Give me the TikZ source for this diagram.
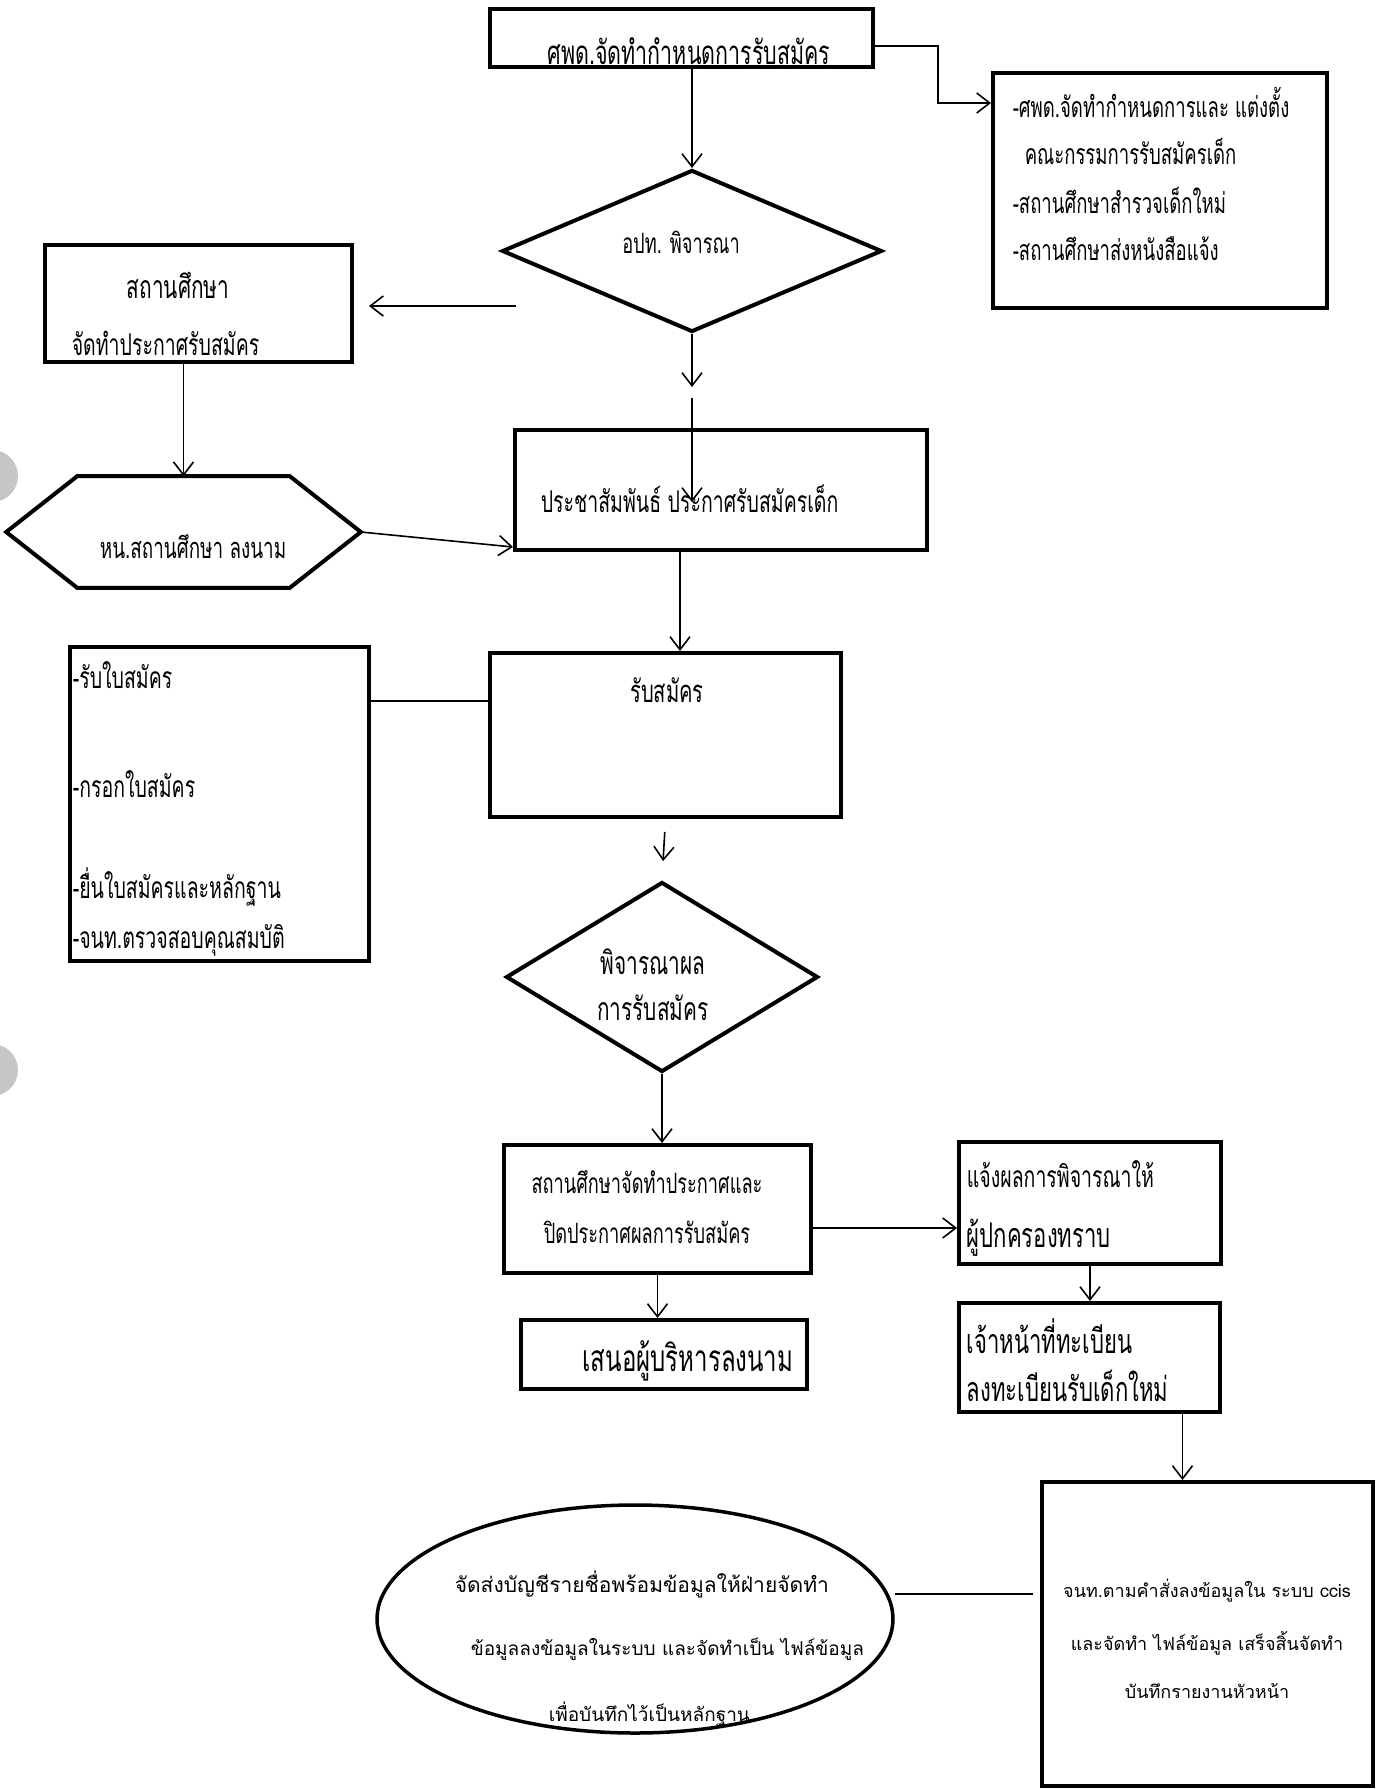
\documentclass[tikz,border=0pt]{standalone}
\usepackage{fontspec}
\newfontfamily\thaifont[Script=Thai,FakeStretch=0.65]{Loma}
\newfontfamily\thaiwide[Script=Thai]{Loma}
\usetikzlibrary{shapes}
\usetikzlibrary{shapes.geometric}
\usetikzlibrary{arrows.meta}
\tikzset{
	box node/.style={rectangle,draw,line width=4pt,inner sep=0pt},
	dec node/.style={diamond,draw,line width=4pt,inner sep=0pt},
	oval node/.style={ellipse,draw,line width=3.5pt,inner sep=0pt},
	txt/.style={font=\thaifont\fontsize{#1}{46}\selectfont,inner sep=0pt},
	txt/.default=30,
	txt wide/.style={font=\thaiwide\fontsize{#1}{24}\selectfont,inner sep=0pt},
	txt wide/.default=19
}

\begin{document}
\begin{tikzpicture}[->,>={Straight Barb[length=13pt,width=20pt]},
	    line width=1.6pt,x=1pt,y=-1pt]
	    \useasboundingbox (0,0) rectangle (1383,1789);
	    % punch holes of the scan
	    \fill[gray!45] (-8,476) circle (26);
	    \fill[gray!45] (-8,1070) circle (26);

	    \node[box node,minimum width=383pt,minimum height=58pt] (top) at (681.5,38) {};
	    \node[txt=33,anchor=base] (toptxt) at (689,64) {ศพด.จัดทำกำหนดการรับสมัคร};

	    \node[box node,minimum width=334pt,minimum height=235pt] (note) at (1160,190.5) {};
	    \node[txt=28.5,anchor=base west] (n1) at (1012,117) {-ศพด.จัดทำกำหนดการและ แต่งตั้ง};
	    \node[txt=28.5,anchor=base west] (n2) at (1024,164) {คณะกรรมการรับสมัครเด็ก};
	    \node[txt=28.5,anchor=base west] (n3) at (1012,213) {-สถานศึกษาสำรวจเด็กใหม่};
	    \node[txt=28.5,anchor=base west] (n4) at (1012,260) {-สถานศึกษาส่งหนังสือแจ้ง};

	    \node[dec node,minimum width=380pt,minimum height=162pt] (consider) at (692,251) {};
	    \node[txt=28,anchor=base] (considertxt) at (681,253) {อปท. พิจารณา};

	    \node[box node,minimum width=307pt,minimum height=117pt] (school) at (198.5,303.5) {};
	    \node[txt=32,anchor=base] (s1) at (178,298) {สถานศึกษา};
	    \node[txt,anchor=base west] (s2) at (71,355) {จัดทำประกาศรับสมัคร};

	    \node[minimum width=353pt,minimum height=110pt,inner sep=0pt] (sign) at (183.5,532) {};
	    \draw[-,line width=4pt] (sign.west) -- ([xshift=71pt]sign.north west) -- ([xshift=-71pt]sign.north east)
	      -- (sign.east) -- ([xshift=-71pt]sign.south east) -- ([xshift=71pt]sign.south west) -- cycle;
	    \node[txt=29,anchor=base] (signtxt) at (193,558) {หน.สถานศึกษา ลงนาม};

	    \node[box node,minimum width=412pt,minimum height=120pt] (publicize) at (721,490) {};
	    \node[txt,anchor=base west] (pubtxt) at (540,512) {ประชาสัมพันธ์ ประกาศรับสมัครเด็ก};

	    \node[box node,minimum width=351pt,minimum height=164pt] (apply) at (665.5,735) {};
	    \node[txt=31,anchor=base] (applytxt) at (667,702) {รับสมัคร};

	    \node[box node,minimum width=299pt,minimum height=314pt] (steps) at (219.5,804) {};
	    \node[txt,anchor=base west] (st1) at (72,688) {-รับใบสมัคร};
	    \node[txt,anchor=base west] (st2) at (72,797) {-กรอกใบสมัคร};
	    \node[txt,anchor=base west] (st3) at (72,898) {-ยื่นใบสมัครและหลักฐาน};
	    \node[txt,anchor=base west] (st4) at (72,948) {-จนท.ตรวจสอบคุณสมบัติ};

	    \node[dec node,minimum width=312pt,minimum height=190pt] (result) at (662,977) {};
	    \node[txt=32,align=center] (resulttxt) at (653,985) {พิจารณาผล\\การรับสมัคร};

	    \node[box node,minimum width=307pt,minimum height=128pt] (announce) at (657.5,1209) {};
	    \node[txt=28,font=\thaifont\fontsize{28}{50}\selectfont,align=center] (announcetxt) at (647,1207) {สถานศึกษาจัดทำประกาศและ\\ปิดประกาศผลการรับสมัคร};

	    \node[box node,minimum width=262pt,minimum height=122pt] (inform) at (1090,1203) {};
	    \node[txt,anchor=base west] (i1) at (966,1187) {แจ้งผลการพิจารณาให้};
	    \node[txt=34,anchor=base west] (i2) at (966,1247) {ผู้ปกครองทราบ};

	    \node[box node,minimum width=261pt,minimum height=109pt] (register) at (1089.5,1357.5) {};
	    \node[txt=34,anchor=base west] (g1) at (966,1353) {เจ้าหน้าที่ทะเบียน};
	    \node[txt=34,anchor=base west] (g2) at (966,1401) {ลงทะเบียนรับเด็กใหม่};

	    \node[box node,minimum width=286pt,minimum height=69pt] (propose) at (664,1354.5) {};
	    \node[txt=37,anchor=base] (proposetxt) at (688,1371) {เสนอผู้บริหารลงนาม};

	    \node[box node,minimum width=331pt,minimum height=304pt] (record) at (1207.5,1634) {};
	    \node[txt wide=18,anchor=base] (rc1) at (1207,1597) {จนท.ตามคำสั่งลงข้อมูลใน ระบบ ccis};
	    \node[txt wide=18,anchor=base] (rc2) at (1207,1650) {และจัดทำ ไฟล์ข้อมูล เสร็จสิ้นจัดทำ};
	    \node[txt wide=18,anchor=base] (rc3) at (1207,1698) {บันทึกรายงานหัวหน้า};

	    \node[oval node,minimum width=516pt,minimum height=228pt] (report) at (635,1619) {};
	    \node[txt wide=21,anchor=base west] (rp1) at (454,1592) {จัดส่งบัญชีรายชื่อพร้อมข้อมูลให้ฝ่ายจัดทำ};
	    \node[txt wide,anchor=base west] (rp2) at (470,1655) {ข้อมูลลงข้อมูลในระบบ และจัดทำเป็น ไฟล์ข้อมูล};
	    \node[txt wide,anchor=base west] (rp3) at (548,1721) {เพื่อบันทึกไว้เป็นหลักฐาน};

	    % connectors
	    \coordinate (c1) at (692,387);
	    \coordinate (c2) at (692,398);
	    \coordinate (c3) at (692,502);
	    \coordinate (c4) at (516,306);
	    \draw ([yshift=-8pt]top.east) -- ++(63,0) |- ([yshift=-32pt]note.north west);
	    \draw (top.south -| consider.north) -- (consider.north);
	    \draw (consider.south) -- (c1);
	    \draw (c2) -- (c3);
	    \draw[shorten >=15pt] (c4) -- (c4 -| school.east);
	    \draw (school.south -| sign.north) -- (sign.north);
	    \draw (sign.east) -- ([yshift=5pt]publicize.south west);
	    \draw ([xshift=-41pt]publicize.south) -- ([xshift=-41pt]publicize.south |- apply.north);
	    \draw[-] ([yshift=34pt]apply.west -| steps.east) -- ([yshift=34pt]apply.west);
	    \draw[shorten <=13pt,shorten >=19pt] (apply.south) -- (result.north);
	    \draw (result.south) -- (result.south |- announce.north);
	    \draw ([yshift=-19pt]announce.east) -- ([yshift=-19pt]announce.east -| inform.west);
	    \draw (inform.south) -- (inform.south |- register.north);
	    \draw (announce.south) -- (announce.south |- propose.north);
	    \draw ([xshift=93pt]register.south) -- ([xshift=93pt]register.south |- record.north);
	    \draw[-,shorten >=7pt] ([yshift=25pt]report.east) -- ([yshift=25pt]report.east -| record.west);
	  \end{tikzpicture}
\end{document}
